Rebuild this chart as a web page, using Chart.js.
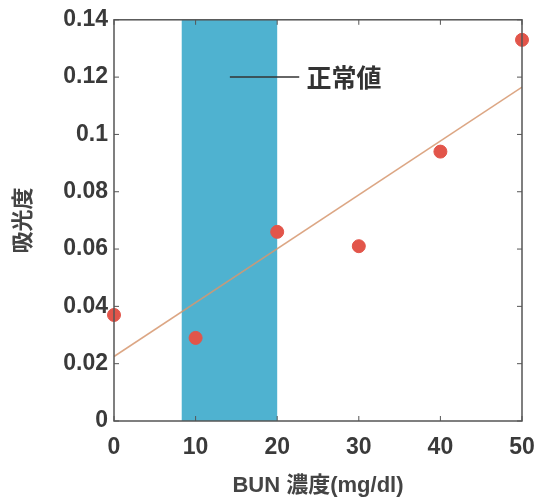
<!DOCTYPE html>
<html>
<head>
<meta charset="utf-8">
<script src="https://cdn.jsdelivr.net/npm/chart.js@4"></script>
<style>
  html, body { margin: 0; padding: 0; background: #fff; }
  #wrap { width: 540px; height: 499px; }
</style>
</head>
<body>
<div id="wrap"><canvas id="grafico"></canvas></div>
<script>
// dados
const bunLevels = [0, 10, 20, 30, 40, 50];
const absorbance = [0.037, 0.029, 0.066, 0.061, 0.094, 0.133];
const trendX = [0, 50];
const trendY = [0.0225, 0.1165];
const normalRange = [8.3, 20];
const normalLabel = '正常値';
const labelLineX = [14.2, 22.7];
const labelY = 0.12;
const labelTextX = 23.6;

const fontLatin = '"Liberation Sans", Arial, "Noto Sans CJK JP", sans-serif';
const fontCJK = '"Liberation Sans", "Noto Sans CJK JP", sans-serif';

// faixa azul (valores normais) desenhada atrás dos pontos
const faixaNormal = {
    id: 'faixaNormal',
    beforeDatasetsDraw(chart) {
        const { ctx, chartArea, scales } = chart;
        const x0 = scales.x.getPixelForValue(normalRange[0]);
        const x1 = scales.x.getPixelForValue(normalRange[1]);
        ctx.save();
        ctx.fillStyle = '#4fb2d0';
        ctx.fillRect(x0, chartArea.top, x1 - x0, chartArea.bottom - chartArea.top);
        ctx.restore();
    }
};

// moldura com marcas internas e rótulo "正常値"
const moldura = {
    id: 'moldura',
    afterDraw(chart) {
        const { ctx, chartArea: a, scales } = chart;
        ctx.save();
        ctx.strokeStyle = '#555';
        ctx.lineWidth = 1;
        scales.x.ticks.forEach(t => {
            const px = scales.x.getPixelForValue(t.value);
            ctx.beginPath();
            ctx.moveTo(px, a.bottom); ctx.lineTo(px, a.bottom - 5);
            ctx.moveTo(px, a.top); ctx.lineTo(px, a.top + 5);
            ctx.stroke();
        });
        scales.y.ticks.forEach(t => {
            const py = scales.y.getPixelForValue(t.value);
            ctx.beginPath();
            ctx.moveTo(a.left, py); ctx.lineTo(a.left + 5, py);
            ctx.moveTo(a.right, py); ctx.lineTo(a.right - 5, py);
            ctx.stroke();
        });
        ctx.lineWidth = 1.5;
        ctx.strokeRect(a.left, a.top, a.right - a.left, a.bottom - a.top);

        // rótulo da faixa
        const ly = scales.y.getPixelForValue(labelY);
        ctx.strokeStyle = '#333';
        ctx.lineWidth = 1.5;
        ctx.beginPath();
        ctx.moveTo(scales.x.getPixelForValue(labelLineX[0]), ly);
        ctx.lineTo(scales.x.getPixelForValue(labelLineX[1]), ly);
        ctx.stroke();
        ctx.fillStyle = '#333';
        ctx.font = 'bold 25px "Noto Sans CJK JP", sans-serif';
        ctx.textBaseline = 'middle';
        ctx.fillText(normalLabel, scales.x.getPixelForValue(labelTextX), ly);
        ctx.restore();
    }
};

const ctx = document.getElementById('grafico').getContext('2d');

new Chart(ctx, {
    type: 'scatter',
    data: {
        datasets: [
            {
                label: 'tendência',
                type: 'line',
                data: trendX.map((x, i) => ({ x, y: trendY[i] })),
                borderColor: 'rgba(214, 150, 110, 0.85)',
                borderWidth: 1.5,
                pointRadius: 0,
                order: 2
            },
            {
                label: 'absorbância',
                data: bunLevels.map((x, i) => ({ x, y: absorbance[i] })),
                backgroundColor: '#e2554a',
                borderColor: '#e2554a',
                pointRadius: 6.5,
                clip: false,
                order: 1
            }
        ]
    },
    options: {
        responsive: true,
        maintainAspectRatio: false,
        animation: false,
        layout: { padding: { left: 0, top: 17, right: 18, bottom: 0 } },
        plugins: {
            legend: { display: false },
            tooltip: { enabled: false }
        },
        scales: {
            x: {
                type: 'linear',
                min: 0,
                max: 50,
                ticks: {
                    stepSize: 10,
                    padding: 13,
                    color: '#3a3a3a',
                    font: { family: fontLatin, size: 23, weight: 'bold' }
                },
                grid: { display: false, drawTicks: false },
                border: { display: false },
                title: {
                    display: true,
                    text: 'BUN 濃度(mg/dl)',
                    color: '#444',
                    font: { family: fontCJK, size: 22, weight: 'bold' },
                    padding: { top: 2, bottom: 0 }
                },
                afterFit: s => { s.height = 78; s.paddingLeft = 0; s.paddingRight = 0; }
            },
            y: {
                min: 0,
                max: 0.14,
                ticks: {
                    stepSize: 0.02,
                    padding: 6,
                    color: '#3a3a3a',
                    font: { family: fontLatin, size: 23, weight: 'bold' },
                    callback: v => String(+v.toFixed(2))
                },
                grid: { display: false, drawTicks: false },
                border: { display: false },
                title: {
                    display: true,
                    text: '吸光度',
                    color: '#444',
                    font: { family: fontCJK, size: 22, weight: 'bold' },
                    padding: { top: 11, bottom: 0 }
                },
                afterFit: s => { s.width = 114; }
            }
        }
    },
    plugins: [faixaNormal, moldura]
});
</script>
</body>
</html>
